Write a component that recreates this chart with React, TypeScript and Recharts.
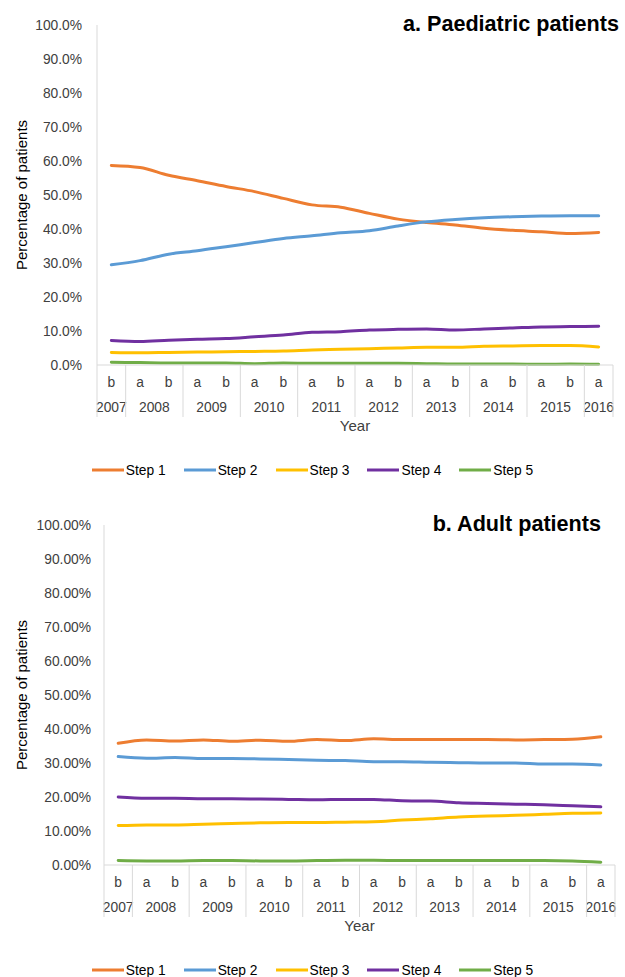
import { LineChart, Line, XAxis, YAxis, Legend } from 'recharts';

// Half-year periods: 2007b .. 2016a
const halves = ['b', 'a', 'b', 'a', 'b', 'a', 'b', 'a', 'b', 'a', 'b', 'a', 'b', 'a', 'b', 'a', 'b', 'a'];
const years = ['2007', '2008', '2008', '2009', '2009', '2010', '2010', '2011', '2011', '2012', '2012', '2013', '2013', '2014', '2014', '2015', '2015', '2016'];

const stepNames = ['Step 1', 'Step 2', 'Step 3', 'Step 4', 'Step 5'];
const stepColors = ['#ED7D31', '#5B9BD5', '#FFC000', '#7030A0', '#70AD47'];
const yTicks = [0, 10, 20, 30, 40, 50, 60, 70, 80, 90, 100];

// Paediatric patients (%)
const paedStep1 = [58.7, 58.1, 55.8, 54.2, 52.5, 51.0, 49.0, 47.1, 46.4, 44.6, 42.9, 41.9, 41.2, 40.2, 39.6, 39.2, 38.7, 39.0];
const paedStep2 = [29.5, 30.7, 32.6, 33.6, 34.8, 36.0, 37.2, 38.0, 38.9, 39.5, 40.9, 42.1, 42.8, 43.3, 43.6, 43.8, 43.9, 43.9];
const paedStep3 = [3.7, 3.6, 3.7, 3.8, 3.9, 4.0, 4.1, 4.4, 4.6, 4.8, 5.0, 5.2, 5.2, 5.5, 5.6, 5.7, 5.7, 5.3];
const paedStep4 = [7.2, 6.9, 7.3, 7.6, 7.8, 8.3, 8.8, 9.6, 9.8, 10.3, 10.5, 10.6, 10.3, 10.6, 10.9, 11.2, 11.3, 11.4];
const paedStep5 = [0.8, 0.7, 0.6, 0.6, 0.6, 0.4, 0.6, 0.5, 0.5, 0.5, 0.5, 0.4, 0.3, 0.3, 0.3, 0.2, 0.3, 0.2];

// Adult patients (%)
const adultStep1 = [35.8, 36.8, 36.5, 36.8, 36.4, 36.7, 36.4, 36.9, 36.6, 37.1, 36.9, 36.9, 36.9, 36.9, 36.8, 36.9, 37.0, 37.7];
const adultStep2 = [31.9, 31.4, 31.6, 31.3, 31.3, 31.2, 31.0, 30.8, 30.7, 30.4, 30.4, 30.2, 30.1, 30.0, 30.0, 29.7, 29.7, 29.4];
const adultStep3 = [11.6, 11.8, 11.8, 12.0, 12.2, 12.4, 12.5, 12.5, 12.6, 12.7, 13.2, 13.6, 14.1, 14.4, 14.6, 14.9, 15.2, 15.3];
const adultStep4 = [20.0, 19.6, 19.6, 19.5, 19.5, 19.4, 19.3, 19.2, 19.3, 19.3, 18.9, 18.8, 18.3, 18.1, 17.9, 17.7, 17.4, 17.1];
const adultStep5 = [1.3, 1.2, 1.2, 1.3, 1.3, 1.2, 1.2, 1.3, 1.4, 1.4, 1.3, 1.3, 1.3, 1.3, 1.3, 1.3, 1.2, 0.8];

const buildRows = (series: number[][]) =>
  halves.map((h, i) => {
    const row: Record<string, string | number> = { period: `${years[i]} ${h}` };
    stepNames.forEach((name, k) => {
      row[name] = series[k][i];
    });
    return row;
  });

const paedRows = buildRows([paedStep1, paedStep2, paedStep3, paedStep4, paedStep5]);
const adultRows = buildRows([adultStep1, adultStep2, adultStep3, adultStep4, adultStep5]);

const FONT = '"Liberation Sans", Arial, sans-serif';
const AXIS_GREY = '#D9D9D9';
const TEXT_GREY = '#404040';
const CHART_W = 625;
const PLOT_H = 340;
const X_AXIS_H = 68;
const TICK_FONT = 13.8;

// two-level category tick: half-year letter, year below, boxes between years
function PeriodTick(props: any) {
  const { x, y, index, band } = props;
  const year = years[index];
  const first = index === 0 || years[index - 1] !== year;
  const last = index === years.length - 1 || years[index + 1] !== year;
  const yearX = first && last ? x : first ? x + band / 2 : null;
  const style = { fontSize: TICK_FONT, fill: TEXT_GREY, fontFamily: FONT };
  return (
    <g>
      <text x={x} y={y + 17} textAnchor="middle" dominantBaseline="central" style={style}>
        {halves[index]}
      </text>
      {yearX !== null && (
        <text x={yearX} y={y + 42} textAnchor="middle" dominantBaseline="central" style={style}>
          {year}
        </text>
      )}
      {first && <line x1={x - band / 2} x2={x - band / 2} y1={y} y2={y + 52} stroke={AXIS_GREY} />}
      {index === years.length - 1 && (
        <line x1={x + band / 2} x2={x + band / 2} y1={y} y2={y + 52} stroke={AXIS_GREY} />
      )}
    </g>
  );
}

function StepLegend(props: any) {
  const { payload = [] } = props;
  return (
    <div style={{ display: 'flex', justifyContent: 'center', gap: 18, paddingTop: 28, fontFamily: FONT }}>
      {payload.map((item: any) => (
        <div key={item.value} style={{ display: 'flex', alignItems: 'center', height: 18 }}>
          <svg width={32} height={6}>
            <line x1={0} x2={32} y1={3} y2={3} stroke={item.color} strokeWidth={3} />
          </svg>
          <span style={{ marginLeft: 2, fontSize: TICK_FONT, color: '#000' }}>{item.value}</span>
        </div>
      ))}
    </div>
  );
}

interface PanelProps {
  title: string;
  rows: Record<string, string | number>[];
  decimals: number;
  axisWidth: number;
  rightMargin: number;
  height: number;
  legendHeight: number;
  titleRight: number;
}

function Panel({ title, rows, decimals, axisWidth, rightMargin, height, legendHeight, titleRight }: PanelProps) {
  const band = (CHART_W - axisWidth - rightMargin) / rows.length;
  return (
    <div style={{ position: 'relative', width: CHART_W, height }}>
      <div
        style={{
          position: 'absolute',
          top: 12,
          right: CHART_W - titleRight,
          fontSize: 21.6,
          fontWeight: 'bold',
          fontFamily: FONT,
          lineHeight: '24px',
          zIndex: 2,
        }}
      >
        {title}
      </div>
      <LineChart
        width={CHART_W}
        height={25 + PLOT_H + X_AXIS_H + legendHeight}
        data={rows}
        margin={{ top: 25, right: rightMargin, left: 0, bottom: 0 }}
        style={{ fontFamily: FONT }}
      >
        <XAxis
          dataKey="period"
          interval={0}
          height={X_AXIS_H}
          padding={{ left: band / 2, right: band / 2 }}
          axisLine={{ stroke: AXIS_GREY }}
          tickLine={false}
          tickSize={0}
          tickMargin={0}
          tick={(p: any) => <PeriodTick {...p} band={band} />}
          label={{ value: 'Year', position: 'insideBottom', offset: 2, style: { fill: TEXT_GREY, fontSize: 15 } }}
        />
        <YAxis
          type="number"
          width={axisWidth}
          domain={[0, 100]}
          ticks={yTicks}
          interval={0}
          axisLine={{ stroke: AXIS_GREY }}
          tickLine={false}
          tickSize={0}
          tickMargin={axisWidth === 97 ? 15 : 13}
          tickFormatter={(v: number) => `${v.toFixed(decimals)}%`}
          tick={{ fill: TEXT_GREY, fontSize: TICK_FONT }}
          label={{
            value: 'Percentage of patients',
            angle: -90,
            position: 'insideLeft',
            offset: 22,
            style: { textAnchor: 'middle', fill: '#000', fontSize: 15 },
          }}
        />
        <Legend
          verticalAlign="bottom"
          height={legendHeight}
          wrapperStyle={{ left: 0, width: CHART_W }}
          content={(p: any) => <StepLegend {...p} />}
        />
        {stepNames.map((name, k) => (
          <Line
            key={name}
            dataKey={name}
            name={name}
            type="monotone"
            stroke={stepColors[k]}
            strokeWidth={3}
            strokeLinecap="round"
            dot={false}
            activeDot={false}
            isAnimationActive={false}
          />
        ))}
      </LineChart>
    </div>
  );
}

export default function App() {
  return (
    <div style={{ width: CHART_W, height: 977, background: '#fff', fontFamily: FONT }}>
      <style>{'body{margin:0;}'}</style>
      <Panel
        title="a. Paediatric patients"
        rows={paedRows}
        decimals={1}
        axisWidth={97}
        rightMargin={12}
        height={500}
        legendHeight={57}
        titleRight={619}
      />
      <Panel
        title="b. Adult patients"
        rows={adultRows}
        decimals={2}
        axisWidth={104}
        rightMargin={10}
        height={477}
        legendHeight={44}
        titleRight={601}
      />
    </div>
  );
}
